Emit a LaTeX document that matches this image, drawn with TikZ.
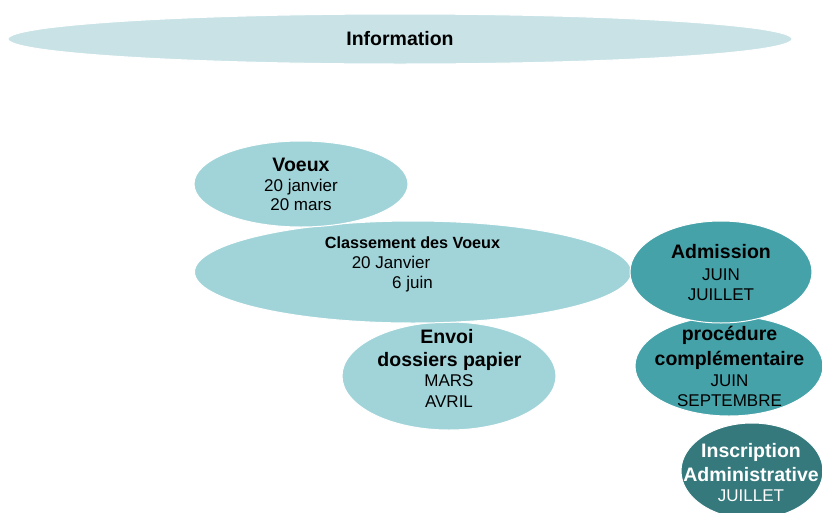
\documentclass[tikz,border=0pt]{standalone}
\usepackage{fontspec}
\setmainfont{Liberation Sans}
\usetikzlibrary{shapes.geometric}
\definecolor{infoc}{HTML}{C8E2E6}
\definecolor{lightc}{HTML}{A1D4D9}
\definecolor{midc}{HTML}{45A2A9}
\definecolor{darkc}{HTML}{35797C}
\tikzset{
  blob/.style={ellipse, draw=white, line width=1pt, inner sep=0pt},
  ttl/.style={anchor=base, inner sep=0pt, font=\fontsize{19.5}{21}\selectfont\bfseries},
  sttl/.style={anchor=base, inner sep=0pt, font=\fontsize{16.2}{18}\selectfont\bfseries},
  txt/.style={anchor=base, inner sep=0pt, font=\fontsize{17}{19}\selectfont},
}
\begin{document}
\begin{tikzpicture}[x=1pt,y=-1pt]
\useasboundingbox (0,0) rectangle (822,512);
\fill[white] (0,0) rectangle (822,512);
% Information
\node[blob, fill=infoc, minimum width=784pt, minimum height=50pt] (info) at (400,39) {};
\node[ttl] (infoT) at (400,45) {Information};
% Envoi
\node[blob, fill=lightc, minimum width=214pt, minimum height=108pt] (envoi) at (449,376) {};
% Classement
\node[blob, fill=lightc, minimum width=437pt, minimum height=102pt] (class) at (413,272) {};
% Voeux
\node[blob, fill=lightc, minimum width=214pt, minimum height=86pt] (voeux) at (301,184) {};
% procedure
\node[blob, fill=midc, minimum width=188pt, minimum height=100pt] (proc) at (729,366) {};
% Admission
\node[blob, fill=midc, minimum width=182pt, minimum height=102pt] (adm) at (721,272) {};
% Inscription
\node[blob, fill=darkc, minimum width=142pt, minimum height=96pt] (insc) at (752,471) {};

% texts
\node[ttl] (voeuxA) at (301,171) {Voeux};
\node[txt] (voeuxB) at (301,191.5) {20 janvier};
\node[txt] (voeuxC) at (301,210.5) {20 mars};

\node[sttl] (classA) at (412.5,248) {Classement des Voeux};
\node[txt] (classB) at (391,268) {20 Janvier};
\node[txt] (classC) at (412.5,288) {6 juin};

\node[ttl] (envoiA) at (447,343) {Envoi};
\node[ttl] (envoiB) at (449.5,366) {dossiers papier};
\node[txt] (envoiC) at (449,386.5) {MARS};
\node[txt] (envoiD) at (449,407) {AVRIL};

\node[ttl] (admA) at (721,258) {Admission};
\node[txt] (admB) at (721,280.5) {JUIN};
\node[txt] (admC) at (721,300) {JUILLET};

\node[ttl] (procA) at (729.5,340.5) {procédure};
\node[ttl] (procB) at (729.5,365.5) {complémentaire};
\node[txt] (procC) at (729.5,386.5) {JUIN};
\node[txt] (procD) at (729.5,406.5) {SEPTEMBRE};

\node[ttl, text=white] (inscA) at (751,457) {Inscription};
\node[ttl, text=white] (inscB) at (751,481.5) {Administrative};
\node[txt, text=white] (inscC) at (751,501.5) {JUILLET};
\end{tikzpicture}
\end{document}
